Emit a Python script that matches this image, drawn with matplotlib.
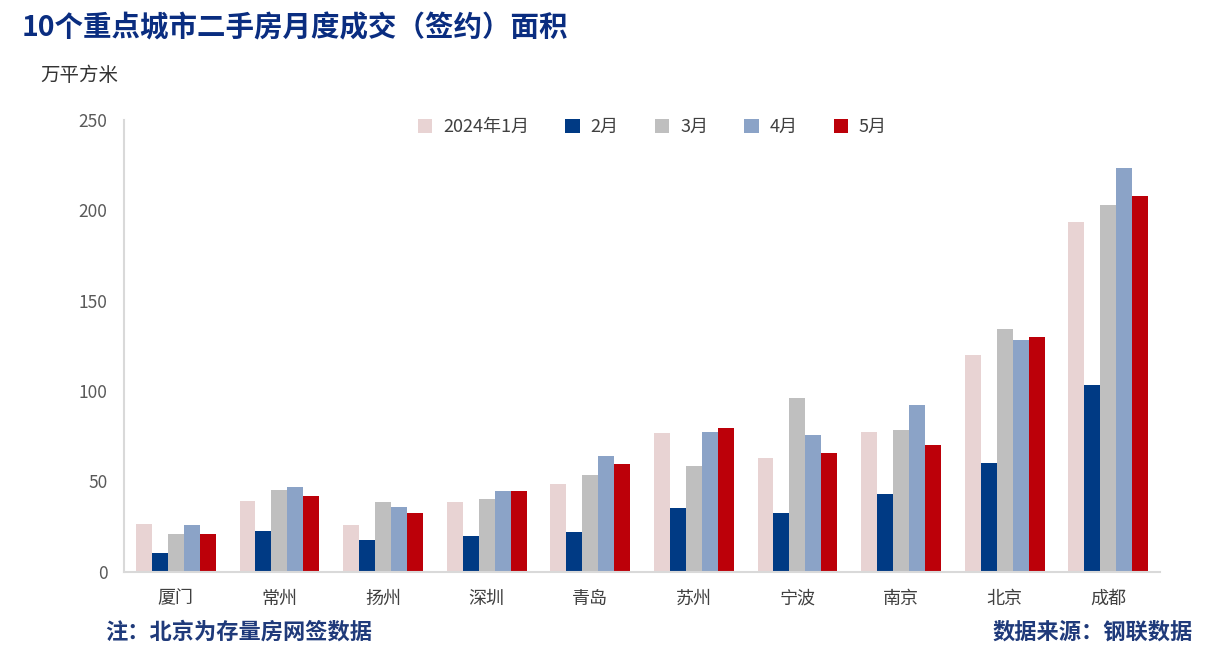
import numpy as np
import matplotlib
matplotlib.use('Agg')
import matplotlib.pyplot as plt

plt.rcParams['font.family'] = ['Noto Sans CJK SC', 'DejaVu Sans']

cities = ["厦门", "常州", "扬州", "深圳", "青岛", "苏州", "宁波", "南京", "北京", "成都"]
months = ["2024年1月", "2月", "3月", "4月", "5月"]

jan = [26.5, 39.3, 26.0, 38.7, 48.7, 76.9, 63.1, 77.4, 120.0, 193.6]
feb = [10.5, 22.7, 17.7, 19.9, 22.1, 35.4, 32.6, 43.1, 60.3, 103.4]
mar = [20.5, 45.4, 38.7, 40.4, 53.7, 58.6, 96.2, 78.5, 134.4, 203.0]
apr = [26.0, 47.0, 36.0, 44.8, 64.2, 77.4, 75.8, 92.4, 128.3, 223.5]
may = [20.5, 42.0, 32.6, 44.8, 59.7, 79.6, 65.8, 70.2, 130.0, 208.0]

colors = ['#E8D3D3', '#003A84', '#BFBFBF', '#8BA3C7', '#BC0009']

fig = plt.figure(figsize=(12.1, 6.56), dpi=100)
ax = fig.add_axes([0.1025, 0.1288, 0.8562, 0.688])

x = np.arange(len(cities))
w = 0.154
for i, (vals, c, lab) in enumerate(zip([jan, feb, mar, apr, may], colors, months)):
    ax.bar(x + (i - 2) * w, vals, width=w, color=c, label=lab)

ax.set_xlim(-0.5, len(cities) - 0.5)
ax.set_ylim(0, 250)
ax.set_yticks([0, 50, 100, 150, 200, 250])
ax.set_xticks(x)
ax.set_xticklabels(cities, fontsize=13, color='#404040')
ax.tick_params(axis='both', length=0)
ax.tick_params(axis='y', labelsize=12.5, labelcolor='#595959', pad=12)
ax.tick_params(axis='x', pad=13)
for s in ['top', 'right']:
    ax.spines[s].set_visible(False)
for s in ['left', 'bottom']:
    ax.spines[s].set_color('#D9D9D9')
    ax.spines[s].set_linewidth(1.5)

leg = ax.legend(loc='center', bbox_to_anchor=(0.51, 0.985), ncol=5, frameon=False,
                fontsize=13, handlelength=0.8, handleheight=0.8, columnspacing=2.0,
                handletextpad=0.6)
for t in leg.get_texts():
    t.set_color('#404040')

fig.text(0.018, 0.957, "10个重点城市二手房月度成交（签约）面积", fontsize=20.5,
         fontweight='bold', color='#0A2D80', va='center')
fig.text(0.033, 0.885, "万平方米", fontsize=14, color='#333333', va='center')
fig.text(0.087, 0.037, "注：北京为存量房网签数据", fontsize=16, fontweight='bold',
         color='#1F3A7A', va='center')
fig.text(0.986, 0.037, "数据来源：钢联数据", fontsize=16, fontweight='bold',
         color='#1F3A7A', va='center', ha='right')

fig.savefig('out.png', dpi=100)
